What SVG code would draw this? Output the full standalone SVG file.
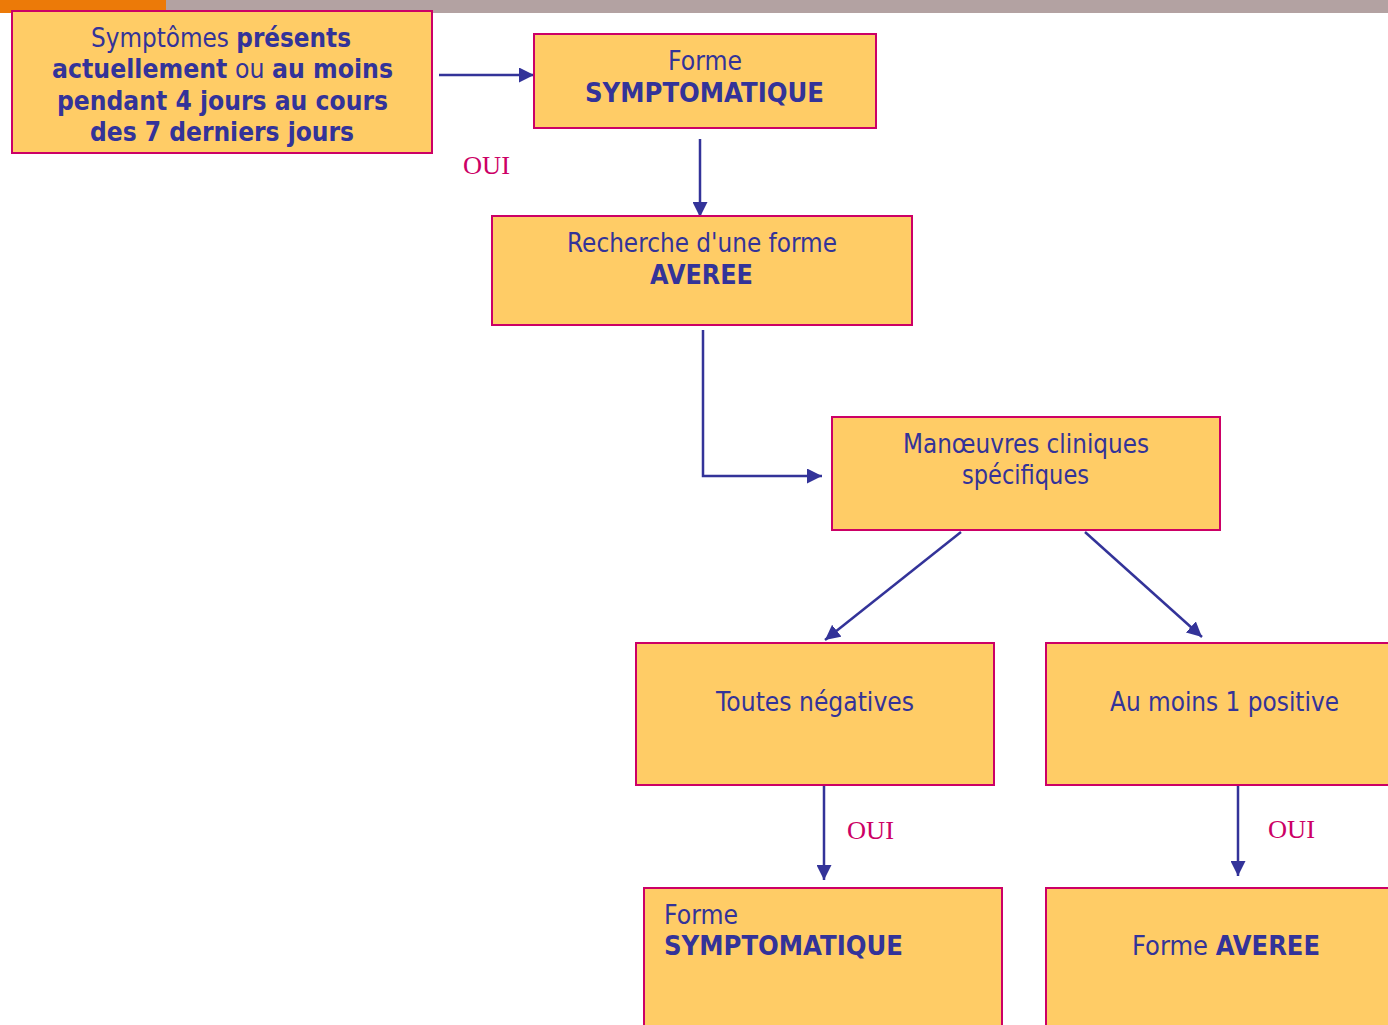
<svg xmlns="http://www.w3.org/2000/svg" width="1388" height="1025" viewBox="0 0 1388 1025">
<defs>
<style>
.box{fill:#FFCC66;stroke:#CC0066;stroke-width:2}
.t{font-family:"DejaVu Sans","Liberation Sans",sans-serif;font-size:26px;fill:#333399}
.b{font-weight:bold}
.oui{font-family:"Liberation Serif","Times New Roman",serif;font-size:26px;fill:#CC0066}
.c{fill:none;stroke:#333399;stroke-width:2.5}
</style>
<marker id="ah" markerUnits="userSpaceOnUse" markerWidth="15" markerHeight="15" refX="15" refY="7.5" orient="auto" viewBox="0 0 15 15">
<path d="M0,0 L15,7.5 L0,15 z" fill="#333399"/>
</marker>
</defs>
<rect width="1388" height="1025" fill="#FFFFFF"/>
<rect x="0" y="0" width="166" height="13" fill="#EC7A08"/>
<rect x="166" y="0" width="1222" height="13" fill="#B3A2A2"/>

<g id="connectors">
<line class="c" x1="439" y1="75" x2="534" y2="75" marker-end="url(#ah)"/>
<line class="c" x1="700" y1="139" x2="700" y2="217" marker-end="url(#ah)"/>
<polyline class="c" points="703,330 703,476 822,476" marker-end="url(#ah)"/>
<line class="c" x1="961" y1="532" x2="825" y2="640" marker-end="url(#ah)"/>
<line class="c" x1="1085" y1="532" x2="1202" y2="637" marker-end="url(#ah)"/>
<line class="c" x1="824" y1="786" x2="824" y2="880" marker-end="url(#ah)"/>
<line class="c" x1="1238" y1="786" x2="1238" y2="876" marker-end="url(#ah)"/>
<text class="oui" x="463" y="174" textLength="47" lengthAdjust="spacingAndGlyphs">OUI</text>
<text class="oui" x="847" y="839" textLength="47" lengthAdjust="spacingAndGlyphs">OUI</text>
<text class="oui" x="1268" y="838" textLength="47" lengthAdjust="spacingAndGlyphs">OUI</text>
</g>

<g id="n1">
<rect class="box" x="12" y="11" width="420" height="142"/>
<text class="t" x="91" y="47" textLength="260" lengthAdjust="spacingAndGlyphs">Symptômes <tspan class="b">présents</tspan></text>
<text class="t" x="52" y="78" textLength="341" lengthAdjust="spacingAndGlyphs"><tspan class="b">actuellement</tspan> ou <tspan class="b">au moins</tspan></text>
<text class="t b" x="57" y="110" textLength="331" lengthAdjust="spacingAndGlyphs">pendant 4 jours au cours</text>
<text class="t b" x="90" y="141" textLength="264" lengthAdjust="spacingAndGlyphs">des 7 derniers jours</text>
</g>

<g id="n2">
<rect class="box" x="534" y="34" width="342" height="94"/>
<text class="t" x="668" y="70" textLength="74" lengthAdjust="spacingAndGlyphs">Forme</text>
<text class="t b" x="585" y="102" textLength="239" lengthAdjust="spacingAndGlyphs">SYMPTOMATIQUE</text>
</g>

<g id="n3">
<rect class="box" x="492" y="216" width="420" height="109"/>
<text class="t" x="567" y="252" textLength="270" lengthAdjust="spacingAndGlyphs">Recherche d'une forme</text>
<text class="t b" x="650" y="284" textLength="103" lengthAdjust="spacingAndGlyphs">AVEREE</text>
</g>

<g id="n4">
<rect class="box" x="832" y="417" width="388" height="113"/>
<text class="t" x="903" y="453" textLength="246" lengthAdjust="spacingAndGlyphs">Manœuvres cliniques</text>
<text class="t" x="962" y="484" textLength="127" lengthAdjust="spacingAndGlyphs">spécifiques</text>
</g>

<g id="n5">
<rect class="box" x="636" y="643" width="358" height="142"/>
<text class="t" x="716" y="711" textLength="198" lengthAdjust="spacingAndGlyphs">Toutes négatives</text>
</g>

<g id="n6">
<rect class="box" x="1046" y="643" width="360" height="142"/>
<text class="t" x="1110" y="711" textLength="229" lengthAdjust="spacingAndGlyphs">Au moins 1 positive</text>
</g>

<g id="n7">
<rect class="box" x="644" y="888" width="358" height="150"/>
<text class="t" x="664" y="924" textLength="74" lengthAdjust="spacingAndGlyphs">Forme</text>
<text class="t b" x="664" y="955" textLength="239" lengthAdjust="spacingAndGlyphs">SYMPTOMATIQUE</text>
</g>

<g id="n8">
<rect class="box" x="1046" y="888" width="360" height="150"/>
<text class="t" x="1132" y="955" textLength="188" lengthAdjust="spacingAndGlyphs">Forme <tspan class="b">AVEREE</tspan></text>
</g>
</svg>
